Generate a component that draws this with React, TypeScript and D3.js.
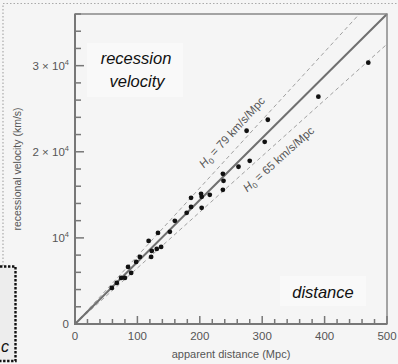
import * as d3 from "d3";
import { useEffect, useRef } from "react";

// apparent distance (Mpc) / recession velocity (km/s)
const distances = [59, 67, 74, 80, 85, 90, 98, 104, 118, 122, 123, 131, 133, 138, 152, 160, 179, 186, 186, 202, 203, 203, 216, 237, 237, 238, 262, 275, 280, 304, 309, 390, 470];
const velocities = [4190, 4770, 5350, 5350, 6630, 5930, 7210, 7790, 9650, 7790, 8490, 8720, 10580, 8950, 10700, 11980, 12910, 13600, 14650, 15120, 14770, 13490, 15000, 17440, 15580, 16630, 18260, 22440, 18950, 21160, 23720, 26400, 30350];

const bestFit = 72; // km/s/Mpc, solid line
const bounds = [79, 65]; // dashed lines
const xTicks = [0, 100, 200, 300, 400, 500];
const yTicks = [0, 10000, 20000, 30000];
const yTickLabels = [["0", ""], ["10", "4"], ["2 × 10", "4"], ["3 × 10", "4"]];

const FONT = "'Liberation Sans', Arial, Helvetica, sans-serif";

export default function App() {
  const ref = useRef<SVGSVGElement>(null);
  useEffect(() => {
    if (!ref.current) return;
    const svg = d3.select(ref.current);
    svg.selectAll("*").remove();
    const W = 398, H = 364;
    const m = { left: 75, right: 11, top: 14, bottom: 40 };
    const x = d3.scaleLinear().domain([0, 500]).range([m.left, W - m.right]);
    const y = d3.scaleLinear().domain([0, 36000]).range([H - m.bottom, m.top]);

    svg.append("rect").attr("width", W).attr("height", H).attr("fill", "#f5f5f5");

    // outer dotted frame (cropped figure)
    svg.append("path").attr("d", `M3,266 V3.5 H${W}`)
      .attr("fill", "none").attr("stroke", "#aaa").attr("stroke-width", 1.2)
      .attr("stroke-dasharray", "1.5,2");
    svg.append("path").attr("d", `M0,266.5 H15.5 V361 H0`)
      .attr("fill", "#ededed").attr("stroke", "#111").attr("stroke-width", 2.4)
      .attr("stroke-dasharray", "2.4,1.6");
    svg.append("text").attr("x", 1).attr("y", 352).attr("font-family", FONT)
      .attr("font-style", "italic").attr("font-size", 16).attr("fill", "#111").text("c");

    const g = svg.append("g");
    const x0 = x(0), x1 = x(500), y0 = y(0), y1 = y(36000);

    // text boxes
    g.append("rect").attr("x", 87).attr("y", 43).attr("width", 96).attr("height", 54).attr("fill", "#f9f9f9");
    g.append("rect").attr("x", 280).attr("y", 276).attr("width", 86).attr("height", 30).attr("fill", "#f9f9f9");

    // Hubble lines, clipped to plot area
    const line = (h: number) => {
      const dEnd = Math.min(500, 36000 / h);
      return [x(0), y(0), x(dEnd), y(h * dEnd)];
    };
    bounds.forEach((h) => {
      const [ax, ay, bx, by] = line(h);
      g.append("line").attr("x1", ax).attr("y1", ay).attr("x2", bx).attr("y2", by)
        .attr("stroke", "#a0a0a0").attr("stroke-width", 1).attr("stroke-dasharray", "4,3");
    });
    {
      const [ax, ay, bx, by] = line(bestFit);
      g.append("line").attr("x1", ax).attr("y1", ay).attr("x2", bx).attr("y2", by)
        .attr("stroke", "#707070").attr("stroke-width", 2);
    }

    // H0 labels along dashed lines
    const hLabel = (h: number, d: number, off: number) => {
      const px = x(d), py = y(h * d);
      const ang = Math.atan2(y(h * 100) - y(0), x(100) - x(0)) * 180 / Math.PI;
      const t = g.append("text")
        .attr("transform", `translate(${px},${py}) rotate(${ang}) translate(0,${off})`)
        .attr("text-anchor", "middle").attr("font-family", FONT).attr("font-size", 11.5)
        .attr("fill", "#555");
      t.append("tspan").attr("font-style", "italic").text("H");
      t.append("tspan").attr("font-size", 8).attr("dy", 3).text("0");
      t.append("tspan").attr("dy", -3).text(" = " + h + " km/s/Mpc");
    };
    hLabel(bounds[0], 268, -10);
    hLabel(bounds[1], 312, 17);

    // points
    g.selectAll(".pt").data(distances).enter().append("circle")
      .attr("cx", (d) => x(d)).attr("cy", (_, i) => y(velocities[i]))
      .attr("r", 2.4).attr("fill", "#111");

    // frame
    g.append("rect").attr("x", x0).attr("y", y1).attr("width", x1 - x0).attr("height", y0 - y1)
      .attr("fill", "none").attr("stroke", "#888").attr("stroke-width", 1.5);
    g.append("path").attr("d", `M${x0},${y1} V${y0} H${x1}`)
      .attr("fill", "none").attr("stroke", "#777").attr("stroke-width", 2);

    // minor + major ticks, inward
    d3.range(0, 501, 20).forEach((v) => {
      const major = v % 100 === 0;
      g.append("line").attr("x1", x(v)).attr("x2", x(v)).attr("y1", y0).attr("y2", y0 - (major ? 8 : 5))
        .attr("stroke", "#777").attr("stroke-width", 1.5);
    });
    d3.range(0, 36001, 2000).forEach((v) => {
      const major = v % 10000 === 0;
      g.append("line").attr("y1", y(v)).attr("y2", y(v)).attr("x1", x0).attr("x2", x0 + (major ? 9 : 6))
        .attr("stroke", "#777").attr("stroke-width", 1.5);
    });

    xTicks.forEach((v) => {
      g.append("text").attr("x", x(v)).attr("y", y0 + 16).attr("text-anchor", "middle")
        .attr("font-family", FONT).attr("font-size", 11.5).attr("fill", "#555").text(String(v));
    });
    yTicks.forEach((v, i) => {
      const t = g.append("text").attr("x", x0 - 6).attr("y", y(v) + 4).attr("text-anchor", "end")
        .attr("font-family", FONT).attr("font-size", 11.5).attr("fill", "#555");
      t.append("tspan").text(yTickLabels[i][0]);
      if (yTickLabels[i][1]) t.append("tspan").attr("font-size", 7.5).attr("dy", -5).text(yTickLabels[i][1]);
    });

    svg.append("text").attr("x", (x0 + x1) / 2).attr("y", 358).attr("text-anchor", "middle")
      .attr("font-family", FONT).attr("font-size", 11).attr("fill", "#555").text("apparent distance (Mpc)");
    svg.append("text").attr("transform", `translate(21,${(y0 + y1) / 2}) rotate(-90)`)
      .attr("text-anchor", "middle").attr("font-family", FONT).attr("font-size", 10.5).attr("fill", "#555")
      .text("recessional velocity (km/s)");

    const big = (tx: number, ty: number, s: string) =>
      svg.append("text").attr("x", tx).attr("y", ty).attr("text-anchor", "middle")
        .attr("font-family", FONT).attr("font-style", "italic").attr("font-size", 16.5)
        .attr("fill", "#111").text(s);
    big(136, 64, "recession");
    big(137, 87, "velocity");
    big(323, 298, "distance");
  }, []);
  return (
    <svg ref={ref} width={398} height={364}
      style={{ position: "absolute", left: 0, top: 0, display: "block" }} />
  );
}
